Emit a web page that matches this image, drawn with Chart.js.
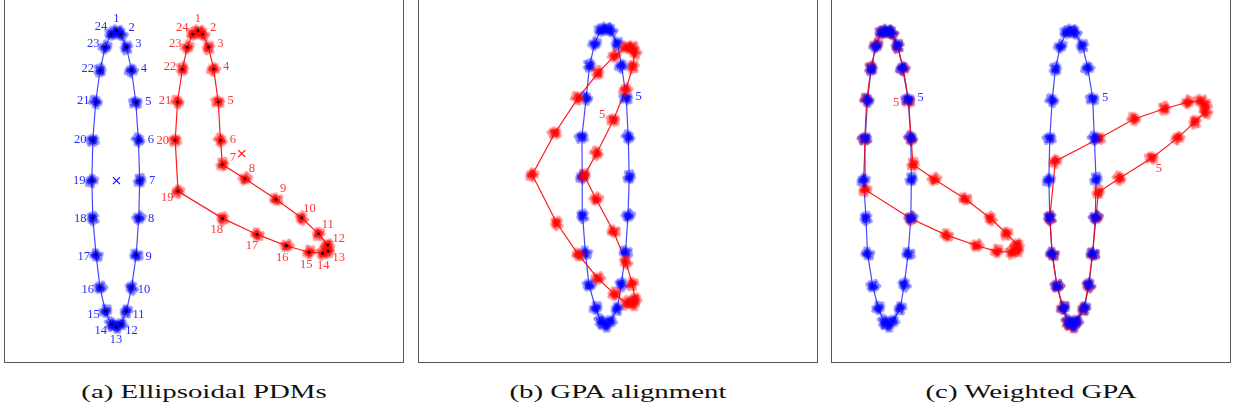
<!DOCTYPE html>
<html>
<head>
<meta charset="utf-8">
<script src="https://cdn.jsdelivr.net/npm/chart.js@4"></script>
<style>
  body { margin: 0; background: #fff; width: 1233px; height: 417px; overflow: hidden; position: relative; }
  .panel { position: absolute; top: -2px; width: 398px; height: 363px; border: 1px solid #555; }
  .panel canvas { display: block; }
  .caption { position: absolute; top: 381px; width: 400px; text-align: center; line-height: 22px;
             font-family: "Liberation Serif", serif; font-size: 19px; color: #111; transform: scaleX(1.52); }
</style>
</head>
<body>
<div class="panel" style="left:4px"><canvas id="chartA" width="398" height="363"></canvas></div>
<div class="panel" style="left:418px"><canvas id="chartB" width="398" height="363"></canvas></div>
<div class="panel" style="left:831px"><canvas id="chartC" width="398" height="363"></canvas></div>
<div class="caption" style="left:4px">(a) Ellipsoidal PDMs</div>
<div class="caption" style="left:418px">(b) GPA alignment</div>
<div class="caption" style="left:831px">(c) Weighted GPA</div>
<script>
// landmark numbers, 1..24 round each contour
var landmarks = [1, 2, 3, 4, 5, 6, 7, 8, 9, 10, 11, 12, 13, 14, 15, 16, 17, 18, 19, 20, 21, 22, 23, 24];

// (a) mean shapes, in landmark order
var aBlue = [[113.7,25.7],[118.3,29],[124,42.7],[129.3,66.7],[133.7,100],[136.3,138.7],[137.7,180.7],[136.7,219.3],
             [134,257.7],[129.3,291.3],[124,315.7],[118.3,329.3],[113.3,332.3],[108.3,329.3],[102.3,315.7],[96.7,291.3],
             [92.7,257.7],[89.3,219.3],[88.3,180.7],[89.3,139],[92.3,99.3],[96.7,66.7],[102,42.7],[108.3,29]];
var aRed = [[197.7,25.7],[202.7,29],[208.7,42.7],[214,65.3],[218.7,99.3],[221,139],[223,164],[246.3,178.7],
            [278.3,200],[304.7,219.3],[322.3,235.7],[331.7,247.3],[332,253.7],[326.3,256],[312.3,254.7],[289,248],
            [258.7,236.3],[223.3,219.7],[177.2,191.7],[174.3,139],[176.7,99.3],[181.7,65.3],[186.7,42.7],[192.3,29]];
var aBlueCentre = [113.7, 180.7];
var aRedCentre = [243, 152.7];

// (b) GPA alignment
var bBlue = [[605,24],[610.5,26],[617.3,39.5],[621.7,62.7],[626.5,96],[628.5,136],[629.5,177],[628.3,216.7],
             [625.7,254],[621.5,287],[617.3,312.2],[610.2,325.3],[605.2,330],[600.2,325.3],[595,311.7],[588.3,288],
             [584.5,254.7],[581.7,216.7],[581.3,176.5],[581,136],[585.3,96],[588.8,62.5],[594,40],[600,26]];
var bRed = [[632,43],[635,48.5],[633.3,63.3],[626,87],[613.3,118.3],[596,152.7],[583.3,175.5],[595.5,199.5],
            [613.3,232.7],[626,264],[632.7,286.7],[635.5,302.5],[633.5,308],[627,306.7],[614.3,297.3],[597.3,281],
            [577.3,256.7],[555,224],[530,174.5],[553.3,131.7],[576.7,96],[597.3,70],[614.2,52.3],[626.3,43.7]];

// (c) weighted GPA, left pair and right pair
var cBlueLeft = [[882.7,26],[887.7,28.3],[894.3,41.7],[899.3,65],[905,97.3],[907.7,136.7],[908.3,179.3],[907.7,219],
                 [905,255.7],[901,287.3],[897,311.7],[889.3,325],[884.3,330],[880.3,326],[874.3,311.7],[868.7,289],
                 [863.3,255.7],[861.7,219],[859.3,180],[861,137.3],[863.3,98.3],[867,66],[871.7,42.7],[877.7,28.3]];
var cRedLeft = [[882.5,27],[888,29],[894,42],[900,65.5],[905.5,99],[908,138],[910,164],[931.7,179.3],
                [963.3,199.3],[989.3,219.3],[1006,235],[1017,246.5],[1017,252.5],[1011,254.5],[996,253.3],[975,247.3],
                [944.3,236.7],[907.5,219.5],[861,190],[860.5,138],[862.5,97.5],[867,65],[872,41],[877.5,28.5]];
var cBlueRight = [[1071.7,26],[1076,28.3],[1083.7,41.7],[1089.3,65],[1094.3,96.7],[1096,137.3],[1097.7,179.3],[1097,218.3],
                  [1094.3,255.7],[1090.3,287.3],[1086,311.7],[1077.7,325],[1074.3,330],[1069.3,326],[1064.3,311.7],[1057.7,289],
                  [1052.7,255.7],[1050.3,218.3],[1049.3,180],[1050.3,137.3],[1052.7,98.3],[1056,66],[1061,42.7],[1067,28.3]];
var cRedRight = [[1209.3,102.7],[1210,110],[1199.3,120],[1181.7,136.7],[1155,157.3],[1121.7,178.3],[1100,192.7],[1097.7,219],
                 [1094,256.5],[1090,288.5],[1085,312.5],[1077,326],[1073.5,331],[1068.5,327],[1063.5,311.5],[1057.7,289],
                 [1052.7,256.5],[1050.3,219],[1056,160.7],[1100.7,137.3],[1136.7,117.3],[1167.7,106.7],[1191.7,100],[1205,98.3]];

var BLUE = '0,0,255', RED = '255,0,0';

// one translucent cloud of samples, used as the point style for every landmark
function cloudSprite(rgb) {
    var c = document.createElement('canvas');
    c.width = 20; c.height = 20;
    var g = c.getContext('2d');
    function dot(o, a, rad) {
        g.fillStyle = 'rgba(' + rgb + ',' + a + ')';
        g.beginPath();
        g.arc(10 + o[0], 10 + o[1], rad, 0, Math.PI * 2);
        g.fill();
    }
    [[-4.5,1],[4.5,-1.5],[0.5,4.5],[-1.5,-4.5],[3.5,3.5],[-3.5,3.5],[4,-4],[-4.5,-3],[6,1.5]]
        .forEach(function (o) { dot(o, 0.4, 2.3); });
    [[0,0],[-2,-1],[2,1],[-1,2],[1.5,-2],[2,2],[-2,1.5],[-1,-2]]
        .forEach(function (o) { dot(o, 0.6, 2.5); });
    return c;
}
var blueCloud = cloudSprite(BLUE), redCloud = cloudSprite(RED);

function toPts(arr) {
    return arr.map(function (p) { return { x: p[0], y: p[1] }; });
}

function contour(arr, rgb, order) {
    var pts = toPts(arr);
    return {
        data: pts.concat([pts[0]]),
        showLine: true,
        borderColor: 'rgba(' + rgb + ',' + (rgb === BLUE ? 0.72 : 0.9) + ')',
        borderWidth: 1.2,
        pointRadius: 0,
        order: order
    };
}

function cloud(arr, rgb, order, labelIds, labelSide) {
    return {
        data: toPts(arr),
        pointStyle: rgb === BLUE ? blueCloud : redCloud,
        pointRotation: function (c) { return c.dataIndex * 47; },
        order: order,
        labelIds: labelIds,
        labelSide: labelSide || 1,
        labelColor: rgb === BLUE ? '#2a2aff' : '#ff3535'
    };
}

// landmark numbers, set along the outward normal of the contour
var landmarkLabels = {
    id: 'landmarkLabels',
    afterDatasetsDraw: function (chart) {
        var ctx = chart.ctx;
        chart.data.datasets.forEach(function (ds, i) {
            if (!ds.labelIds) return;
            var pts = chart.getDatasetMeta(i).data;
            var n = pts.length;
            ctx.save();
            ctx.font = '12.5px "Liberation Serif", serif';
            ctx.fillStyle = ds.labelColor;
            ctx.textAlign = 'center';
            ctx.textBaseline = 'middle';
            ds.labelIds.forEach(function (id) {
                var k = landmarks.indexOf(id);
                var prev = pts[(k - 1 + n) % n], next = pts[(k + 1) % n];
                var tx = next.x - prev.x, ty = next.y - prev.y;
                var len = Math.sqrt(tx * tx + ty * ty) || 1;
                var nx = ty / len * ds.labelSide, ny = -tx / len * ds.labelSide;
                ctx.fillText(String(id), pts[k].x + nx * 12.5, pts[k].y + ny * 12.5);
            });
            ctx.restore();
        });
    }
};

function makeChart(id, datasets) {
    var canvas = document.getElementById(id);
    var r = canvas.getBoundingClientRect();
    return new Chart(canvas.getContext('2d'), {
        type: 'scatter',
        data: { datasets: datasets },
        options: {
            responsive: false,
            animation: false,
            layout: { padding: 0 },
            plugins: { legend: { display: false }, tooltip: { enabled: false } },
            scales: {
                x: { type: 'linear', display: false, min: r.left, max: r.right },
                y: { type: 'linear', display: false, min: r.top, max: r.bottom, reverse: true }
            }
        },
        plugins: [landmarkLabels]
    });
}

function meanDots(arr) {
    return { data: toPts(arr), pointRadius: 1.4, pointBackgroundColor: '#000', pointBorderWidth: 0, order: 1 };
}

function centreMark(p, rgb) {
    return { data: [{ x: p[0], y: p[1] }], pointStyle: 'crossRot', pointRadius: 5,
             pointBorderColor: 'rgb(' + rgb + ')', pointBorderWidth: 1.1, order: 1 };
}

makeChart('chartA', [
    contour(aBlue, BLUE, 12),
    contour(aRed, RED, 11),
    cloud(aBlue, BLUE, 5, landmarks),
    cloud(aRed, RED, 5, landmarks),
    meanDots(aBlue),
    meanDots(aRed),
    centreMark(aBlueCentre, BLUE),
    centreMark(aRedCentre, RED)
]);

makeChart('chartB', [
    contour(bBlue, BLUE, 12),
    contour(bRed, RED, 11),
    cloud(bBlue, BLUE, 5, [5]),
    cloud(bRed, RED, 4, [5], -1)
]);

makeChart('chartC', [
    contour(cBlueLeft, BLUE, 12),
    contour(cRedLeft, RED, 11),
    contour(cBlueRight, BLUE, 12),
    contour(cRedRight, RED, 11),
    cloud(cRedLeft, RED, 5, [5], -1),
    cloud(cRedRight, RED, 5, [5]),
    cloud(cBlueLeft, BLUE, 4, [5]),
    cloud(cBlueRight, BLUE, 4, [5])
]);
</script>
</body>
</html>
